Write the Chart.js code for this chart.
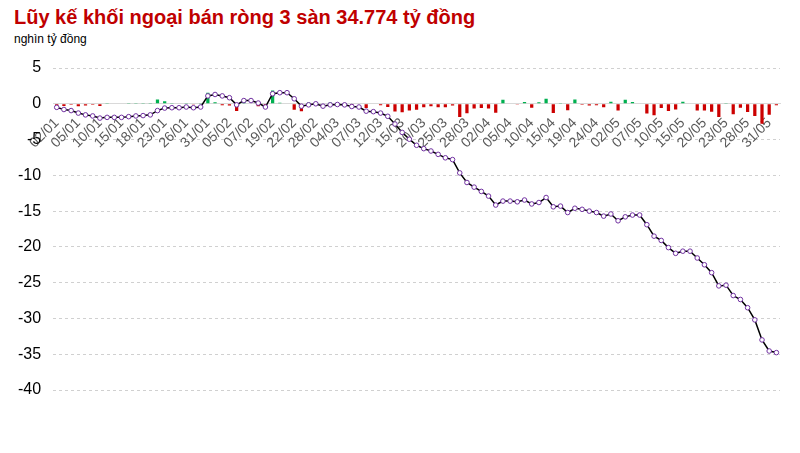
<!DOCTYPE html>
<html>
<head>
<meta charset="utf-8">
<script src="https://cdn.jsdelivr.net/npm/chart.js@4"></script>
<style>
  body { margin: 0; background: #fff; font-family: "Liberation Sans", Arial, sans-serif; }
  #wrap { position: relative; width: 800px; height: 453px; }
  #title { position: absolute; left: 14px; top: 6px; font-size: 20px; font-weight: bold; color: #c00000; }
  #unit { position: absolute; left: 14px; top: 32px; font-size: 12px; color: #000; }
  #box { position: absolute; left: 0; top: 46px; width: 800px; height: 407px; }
</style>
</head>
<body>
<div id="wrap">
  <div id="title">Lũy kế khối ngoại bán ròng 3 sàn 34.774 tỷ đồng</div>
  <div id="unit">nghìn tỷ đồng</div>
  <div id="box"><canvas id="c"></canvas></div>
</div>
<script>
// trading days (every 3rd one is labelled)
const days = [
  '02/01','03/01','04/01','05/01','08/01','09/01','10/01','11/01','12/01','15/01',
  '16/01','17/01','18/01','19/01','22/01','23/01','24/01','25/01','26/01','29/01',
  '30/01','31/01','01/02','02/02','05/02','06/02','06/02','07/02','15/02','16/02',
  '19/02','20/02','21/02','22/02','23/02','26/02','28/02','29/02','01/03','04/03',
  '05/03','06/03','07/03','08/03','11/03','12/03','13/03','14/03','15/03','18/03',
  '19/03','20/03','21/03','22/03','25/03','26/03','27/03','28/03','29/03','01/04',
  '02/04','03/04','04/04','05/04','08/04','09/04','10/04','11/04','12/04','15/04',
  '16/04','17/04','19/04','22/04','23/04','24/04','25/04','26/04','02/05','03/05',
  '06/05','07/05','08/05','09/05','10/05','13/05','14/05','15/05','16/05','17/05',
  '20/05','21/05','22/05','23/05','24/05','27/05','28/05','29/05','30/05','31/05',
  '03/06'
];

// daily net (nghìn tỷ đồng)
const daily = [
  -0.5,-0.3,-0.15,-0.35,-0.25,-0.15,-0.3,0.1,0,0,
  0.1,0.1,0.05,0.1,0.6,0.35,0.05,0,0.1,-0.1,
  0.1,1.55,0.2,-0.2,-0.25,-1.0,0.6,0,-0.35,-0.55,
  1.85,0.15,0,-0.85,-1.03,0.18,0.15,-0.33,0.18,0.05,
  -0.05,-0.23,-0.07,-0.58,-0.07,-0.2,-0.45,-1.08,-1.17,-0.95,
  -0.85,-0.47,-0.33,-0.47,-0.48,-0.25,-1.86,-1.34,-0.65,-0.6,
  -0.65,-1.25,0.55,0,-0.1,0.25,-0.55,0.2,0.7,-1.3,
  0.1,-0.9,0.6,-0.15,-0.25,-0.2,-0.5,0.3,-0.95,0.55,
  0.25,0,-1.35,-1.6,-0.6,-1.0,-0.8,0.3,0,-0.95,
  -0.95,-1.1,-1.85,0.1,-1.45,-0.55,-1.15,-1.7,-2.8,-1.55,
  -0.22
];

// cumulative (nghìn tỷ đồng)
const cumulative = [
  -0.5,-0.8,-0.95,-1.3,-1.55,-1.7,-2.0,-1.9,-1.9,-1.9,
  -1.8,-1.7,-1.65,-1.55,-0.95,-0.6,-0.55,-0.55,-0.45,-0.55,
  -0.45,1.1,1.3,1.1,0.85,-0.15,0.45,0.45,0.1,-0.45,
  1.4,1.55,1.55,0.7,-0.33,-0.15,0,-0.33,-0.15,-0.1,
  -0.15,-0.38,-0.45,-1.03,-1.1,-1.3,-1.75,-2.83,-4.0,-4.95,
  -5.8,-6.27,-6.6,-7.07,-7.55,-7.8,-9.66,-11.0,-11.65,-12.25,
  -12.9,-14.15,-13.6,-13.6,-13.7,-13.45,-14.0,-13.8,-13.1,-14.4,
  -14.3,-15.2,-14.6,-14.75,-15.0,-15.2,-15.7,-15.4,-16.35,-15.8,
  -15.55,-15.55,-16.9,-18.5,-19.1,-20.1,-20.9,-20.6,-20.6,-21.55,
  -22.5,-23.6,-25.45,-25.35,-26.8,-27.35,-28.5,-30.2,-33.0,-34.55,
  -34.774
];

const yTicks = [5, 0, -5, -10, -15, -20, -25, -30, -35, -40];

new Chart(document.getElementById('c'), {
  data: {
    labels: days,
    datasets: [
      {
        type: 'line',
        data: cumulative,
        borderColor: '#000',
        borderWidth: 1.5,
        pointRadius: 2.3,
        pointBorderWidth: 1,
        pointBorderColor: '#7030a0',
        pointBackgroundColor: '#fff',
        tension: 0,
        order: 0
      },
      {
        type: 'bar',
        data: daily,
        backgroundColor: daily.map(v => v < 0 ? '#cc0000' : '#00b050'),
        barPercentage: 0.45,
        categoryPercentage: 1,
        order: 1
      }
    ]
  },
  options: {
    responsive: true,
    maintainAspectRatio: false,
    animation: false,
    layout: { padding: { left: 6, right: 20, top: 22, bottom: 63 } },
    plugins: { legend: { display: false }, tooltip: { enabled: false } },
    scales: {
      x: {
        position: { y: 0 },
        grid: { display: false },
        border: { display: true, color: '#d9d9d9' },
        ticks: {
          autoSkip: false,
          maxRotation: 45,
          minRotation: 45,
          color: '#595959',
          font: { size: 14, family: 'Liberation Sans' },
          callback: (v, i) => i % 3 === 0 ? days[i] : ''
        }
      },
      y: {
        min: -40,
        max: 5,
        afterBuildTicks: s => { s.ticks = yTicks.map(v => ({ value: v })); },
        border: { display: false, dash: [3, 3] },
        grid: { color: '#d0d0d0', drawTicks: false },
        ticks: {
          color: '#000',
          padding: 12,
          font: { size: 16, family: 'Liberation Sans' }
        }
      }
    }
  }
});
</script>
</body>
</html>
